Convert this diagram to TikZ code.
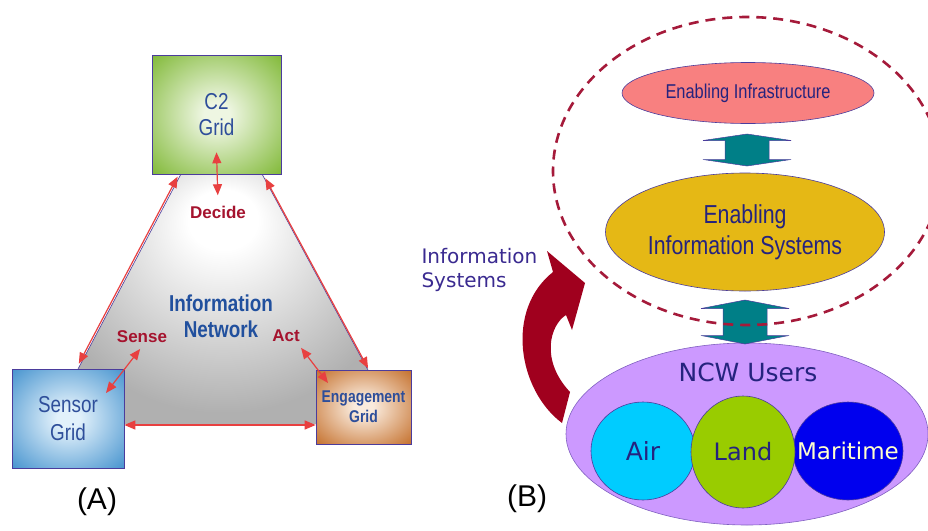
\documentclass[tikz,border=0pt]{standalone}
\usepackage{fontspec}
\setmainfont{Liberation Sans}
\newfontfamily\narrowfont[FakeStretch=0.82]{Liberation Sans}
\newfontfamily\comicfont{DejaVu Sans}
\usepackage{xcolor}
\usetikzlibrary{shapes.geometric}
\usetikzlibrary{arrows.meta}

\definecolor{c2in}{HTML}{EEF6E2}
\definecolor{c2out}{HTML}{78B42A}
\definecolor{sensin}{HTML}{E2F1FB}
\definecolor{sensout}{HTML}{3A8CCB}
\definecolor{engin}{HTML}{FAEBDD}
\definecolor{engout}{HTML}{C0661E}
\definecolor{netgray}{HTML}{B0B0B0}
\definecolor{boxline}{HTML}{4B3C9C}
\definecolor{gridblue}{HTML}{2E4E9A}
\definecolor{netblue}{HTML}{21509E}
\definecolor{arrowred}{HTML}{E84040}
\definecolor{verbred}{HTML}{A5132E}
\definecolor{ringred}{HTML}{A51A3A}
\definecolor{curvered}{HTML}{A0001E}
\definecolor{navy}{HTML}{25237E}
\definecolor{infrafill}{HTML}{F88080}
\definecolor{eisfill}{HTML}{E5B815}
\definecolor{tealfill}{HTML}{007F87}
\definecolor{ncwfill}{HTML}{CC99FF}
\definecolor{ncwline}{HTML}{8060C0}
\definecolor{airfill}{HTML}{00CCFF}
\definecolor{landfill}{HTML}{99CC00}
\definecolor{marfill}{HTML}{0000EE}
\definecolor{martext}{HTML}{FFFFCC}
\definecolor{islabel}{HTML}{3A2A90}

\pgfdeclareradialshading{c2glow}{\pgfpoint{0bp}{0bp}}{color(0bp)=(c2in); color(5bp)=(c2in); color(38bp)=(c2out); color(50bp)=(c2out)}
\pgfdeclareradialshading{sensglow}{\pgfpoint{0bp}{0bp}}{color(0bp)=(sensin); color(5bp)=(sensin); color(38bp)=(sensout); color(50bp)=(sensout)}
\pgfdeclareradialshading{engglow}{\pgfpoint{0bp}{0bp}}{color(0bp)=(engin); color(5bp)=(engin); color(38bp)=(engout); color(50bp)=(engout)}
\pgfdeclareradialshading{netglow}{\pgfpoint{0bp}{18bp}}{color(0bp)=(white); color(6bp)=(white); color(30bp)=(netgray); color(50bp)=(netgray)}

\begin{document}
\begin{tikzpicture}[x=1pt,y=-1pt,
  >={Triangle[length=11pt,width=9pt]},
  gridbox/.style={draw=boxline, line width=0.6pt, inner sep=0pt, align=center, text=gridblue},
  redarrow/.style={<->, draw=arrowred, line width=1.2pt},
  verb/.style={font=\fontsize{17}{20}\selectfont\bfseries, text=verbred},
  bubble/.style={ellipse, draw=boxline, line width=0.6pt, inner sep=0pt, align=center, text=navy},
  pics/dblarrow/.style 2 args={code={
    \filldraw[fill=tealfill, draw=boxline, line width=0.5pt]
      (0,-#1) -- (44,-#2) -- (22,-#2) -- (22,#2) -- (44,#2) -- (0,#1)
      -- (-44,#2) -- (-22,#2) -- (-22,-#2) -- (-44,-#2) -- cycle;
  }}]
\clip (0,0) rectangle (928,530);

% (A) network triangle
\coordinate (tl) at (181,174);
\coordinate (tr) at (262,174);
\coordinate (bl) at (78,369);
\coordinate (br) at (368,370);
\shade[shading=netglow] (tl) -- (tr) -- (br) -- (368,424) -- (78,424) -- (bl) -- cycle;
\draw[boxline, line width=0.6pt] (tl) -- (bl) (tr) -- (br);

\node[gridbox, shade, shading=c2glow, minimum width=129pt, minimum height=119pt,
  font=\narrowfont\fontsize{23}{26}\selectfont] (c2) at (216.5,114.5) {C2\\Grid};
\node[gridbox, shade, shading=sensglow, minimum width=112pt, minimum height=99pt,
  font=\narrowfont\fontsize{23}{28}\selectfont] (sensor) at (68,418.5) {Sensor\\Grid};
\node[gridbox, shade, shading=engglow, minimum width=95pt, minimum height=74pt,
  font=\narrowfont\fontsize{17}{20}\selectfont\bfseries] (engage) at (363.5,407) {Engagement\\Grid};

\node[verb] (decide) at (218,212) {Decide};
\node[verb] (sense) at (142,337) {Sense};
\node[verb] (act) at (286,336) {Act};
\node[align=center, text=netblue, font=\narrowfont\fontsize{23}{26}\selectfont\bfseries] (net) at (221,316) {Information\\Network};

\draw[redarrow, shorten <=3pt, shorten >=6pt] ([xshift=-2pt]tl) -- ([xshift=-2pt]bl);
\draw[redarrow, shorten <=5pt, shorten >=2pt] ([xshift=1pt]tr) -- ([xshift=1pt]br);
\draw[redarrow] ([yshift=-6.5pt]sensor.east) -- ([yshift=-6.5pt]sensor.east -| engage.west);
\draw[redarrow, shorten >=7pt] ([yshift=22pt]c2.south) -- (decide.north);
\draw[redarrow, shorten <=3pt] (sense.south) -- ([shift={(38pt,25.5pt)}]sensor.center);
\draw[redarrow, shorten <=3pt] ([xshift=-4pt]act.south east) -- ([shift={(-35.5pt,24pt)}]engage.center);

\node[font=\fontsize{30}{34}\selectfont] (capA) at (97,502) {(A)};

% (B) NCW layers
\node[bubble, fill=ncwfill, draw=ncwline, minimum width=362pt, minimum height=182pt] (ncw) at (747,434) {};
\node[text=navy, font=\comicfont\fontsize{25}{28}\selectfont] (ncwlabel) at (748,372) {NCW Users};
\node[bubble, fill=airfill, minimum width=104pt, minimum height=98pt,
  label={[text=navy, font=\comicfont\fontsize{25}{28}\selectfont]center:Air}] (air) at (643,451) {};
\node[bubble, fill=marfill, minimum width=110pt, minimum height=98pt,
  label={[text=martext, font=\comicfont\fontsize{23}{26}\selectfont]center:Maritime}] (maritime) at (848,451) {};
\node[bubble, fill=landfill, minimum width=104pt, minimum height=112pt,
  label={[text=navy, font=\comicfont\fontsize{24}{27}\selectfont]center:Land}] (land) at (743,452) {};

\node[bubble, fill=infrafill, minimum width=252pt, minimum height=61pt,
  font=\narrowfont\fontsize{20}{24}\selectfont] (infra) at (748,93) {Enabling Infrastructure};
\node[bubble, fill=eisfill, minimum width=279pt, minimum height=118pt,
  font=\narrowfont\fontsize{26}{31}\selectfont] (eis) at (745,232) {Enabling\\Information Systems};

\pic at (747,150) {dblarrow={16}{9.5}};
\pic at (745,322) {dblarrow={22}{13.5}};

\node[ellipse, draw=ringred, line width=2.6pt, dash pattern=on 10pt off 7pt,
  minimum width=388pt, minimum height=308pt] (ring) at (747,171) {};

\fill[curvered] (547,251) -- (585,283) -- (572,330) -- (566,315)
  .. controls (550,325) and (540,360) .. (570,392) -- (562,423)
  .. controls (518,390) and (505,310) .. (553,272) -- cycle;
\node[anchor=west, align=left, text=islabel, font=\comicfont\fontsize{20}{24}\selectfont] (islbl) at (418,270) {Information\\Systems};

\node[font=\fontsize{30}{34}\selectfont] (capB) at (527,499) {(B)};
\end{tikzpicture}
\end{document}
